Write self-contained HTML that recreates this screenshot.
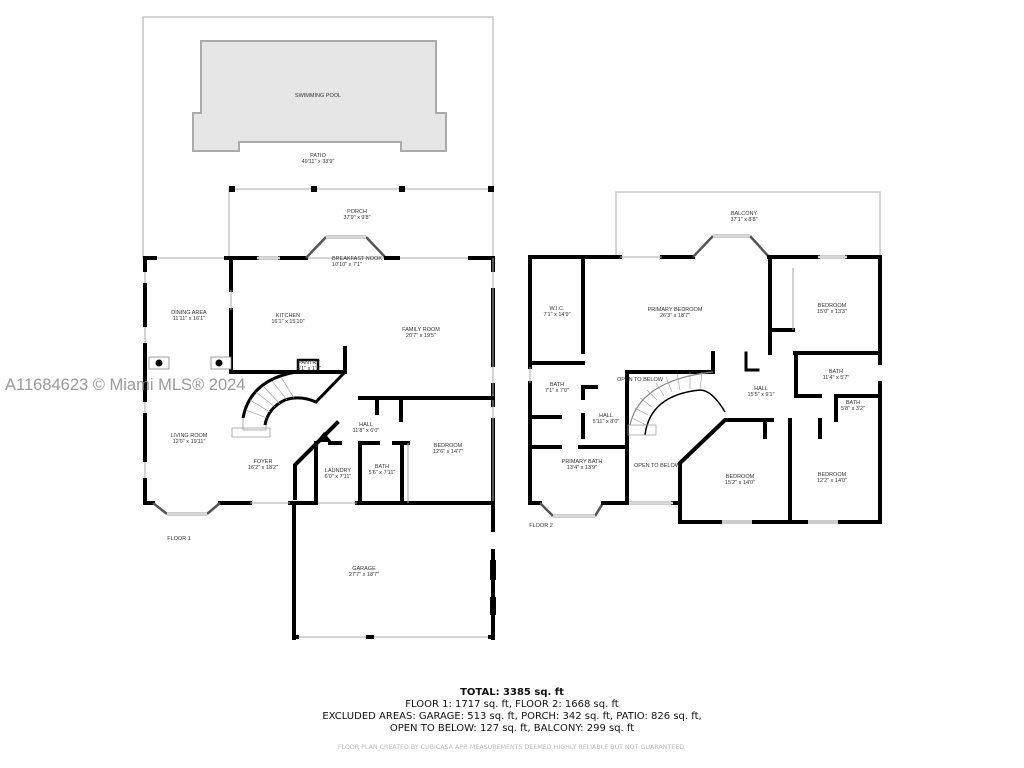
<!DOCTYPE html>
<html><head><meta charset="utf-8"><style>
html,body{margin:0;padding:0;background:#fff}
svg{display:block}
.t{font-family:"Liberation Sans",sans-serif;font-size:5.5px;fill:#333;text-anchor:middle}
.w{stroke:#000;stroke-width:4;fill:none;stroke-linecap:square}
.th{stroke:#aaa;stroke-width:1;fill:none}
.dg{stroke:#555;stroke-width:2.5;fill:none}
.win{stroke:#999;stroke-width:3;fill:none}
.win2{stroke:#fff;stroke-width:1.2;fill:none}
.s{font-family:"DejaVu Sans",sans-serif;font-size:10px;fill:#111;text-anchor:middle}
</style></head><body>
<svg width="1024" height="768" viewBox="0 0 1024 768" xmlns="http://www.w3.org/2000/svg">
<path class="th" d="M143,258 V17 H493 V190"/>
<path d="M200,40 H437 V112 H447 V152 H400 V143 H240 V152 H192 V112 H200 Z" fill="#aaa"/>
<path d="M202,42 H435 V114 H445 V150 H402 V141 H238 V150 H194 V114 H202 Z" fill="#e6e6e6"/>
<text class="t" x="318" y="97">SWIMMING POOL</text>
<text class="t" x="318" y="157">PATIO</text><text class="t" x="318" y="163">49'11" x 33'9"</text>
<path class="th" d="M229,258 V189 H493 V258"/>
<rect x="229" y="186" width="6" height="6"/><rect x="311" y="186" width="6" height="6"/><rect x="399" y="186" width="6" height="6"/><rect x="488" y="186" width="6" height="6"/>
<text class="t" x="357" y="213">PORCH</text><text class="t" x="357" y="219">37'9" x 9'8"</text>

<path class="th" d="M145,258 H493"/>
<path class="w" d="M145,258 H155"/><path class="w" d="M226,258 H257"/><path class="w" d="M280,258 H306"/>
<path class="win" d="M257,258 H280"/><path class="win2" d="M257,258 H280"/>
<path class="dg" d="M306,258 L326,237 M366,237 L386,258"/>
<path class="win" d="M326,237 H366"/><path class="win2" d="M326,237 H366"/>
<path class="w" d="M386,258 H398"/><path class="w" d="M470,258 H493"/>
<path class="th" d="M145,258 V503"/>
<path class="w" d="M145,258 V270 M145,285 V325 M145,345 V400 M145,415 V460 M145,480 V503"/>
<path class="w" d="M493,258 V270 M493,290 V365 M493,385 V405 M493,420 V503"/>
<path class="th" d="M493,258 V503"/>
<path class="w" d="M145,503 H153 M220,503 H250"/>
<path class="dg" d="M153,503 L167,514 M207,514 L220,503"/>
<path class="win" d="M167,514 H207"/><path class="win2" d="M167,514 H207"/>
<path class="w" d="M290,503 H315 M357,503 H493"/>
<path class="th" d="M250,503 H290 M315,503 H357"/>
<path class="w" d="M231,258 V290 M231,310 V372 H345 V348"/>
<path class="th" d="M231,290 V310"/>
<path class="w" d="M298,372 V360 H318 V372" style="stroke-width:2.5"/>
<text class="t" x="288" y="317">KITCHEN</text><text class="t" x="288" y="323">16'1" x 15'10"</text>
<text class="t" x="309" y="364">PANTRY</text><text class="t" x="309" y="370">4'1" x 1'3"</text>
<rect x="149" y="357" width="20" height="12" fill="#fff" stroke="#888" stroke-width="0.8"/><circle cx="159" cy="363" r="3.5"/>
<rect x="211" y="357" width="20" height="12" fill="#fff" stroke="#888" stroke-width="0.8"/><circle cx="219" cy="363" r="3.5"/>
<path d="M296,372 Q250,380 243,418" stroke="#000" stroke-width="3" fill="none"/>
<path d="M345,372 L316,402 Q300,395 285,400 Q268,408 265,425" stroke="#000" stroke-width="3" fill="none"/>
<path d="M243,418 V430 H266 V425" stroke="#999" stroke-width="0.8" fill="none"/>
<path d="M232,428 H270 V437 H232 Z" fill="none" stroke="#999" stroke-width="0.8"/>
<g stroke="#999" stroke-width="0.6"><path d="M250,400 L270,412 M256,392 L275,407 M263,386 L280,404 M272,381 L287,400 M281,377 L294,398 M246,410 L267,418"/></g>
<path class="w" d="M295,498 V465 L337,423"/>
<path d="M316,442 L332,442 L324,432 Z"/>
<path class="w" d="M316,443 V503 M360,443 V503 M402,443 V503"/>
<path class="w" d="M330,443 H340 M360,443 H378 M394,443 H408"/>
<path class="th" d="M408,443 V503"/>
<path class="w" d="M360,398 H493 M377,398 V413 M401,398 V420"/>
<path class="w" d="M294,503 V638 M493,503 V530 M493,551 V638"/>
<path d="M490,560 h6 v20 h-6z M490,597 h6 v18 h-6z"/>
<path class="th" d="M296,637 H491"/>
<path d="M294,635 h5 v4 h-5z M366,635 h8 v4 h-8z M488,635 h6 v4 h-6z"/>

<text class="t" x="189" y="314">DINING AREA</text><text class="t" x="189" y="320">11'11" x 16'1"</text>
<text class="t" x="189" y="437">LIVING ROOM</text><text class="t" x="189" y="443">12'0" x 19'11"</text>
<text class="t" x="357" y="260">BREAKFAST NOOK</text><text class="t" x="347" y="266">10'10" x 7'1"</text>
<text class="t" x="421" y="331">FAMILY ROOM</text><text class="t" x="421" y="337">20'7" x 19'5"</text>
<text class="t" x="263" y="463">FOYER</text><text class="t" x="263" y="469">16'2" x 18'2"</text>
<text class="t" x="366" y="426">HALL</text><text class="t" x="366" y="432">11'8" x 6'0"</text>
<text class="t" x="448" y="447">BEDROOM</text><text class="t" x="448" y="453">12'6" x 14'7"</text>
<text class="t" x="338" y="472">LAUNDRY</text><text class="t" x="338" y="478">6'0" x 7'11"</text>
<text class="t" x="382" y="468">BATH</text><text class="t" x="382" y="474">5'6" x 7'11"</text>
<text class="t" x="364" y="570">GARAGE</text><text class="t" x="364" y="576">27'7" x 18'7"</text>
<text class="t" x="179" y="540">FLOOR 1</text>

<path class="th" d="M616,257 V192 H880 V257"/>
<text class="t" x="744" y="215">BALCONY</text><text class="t" x="744" y="221">37'1" x 8'8"</text>
<path class="w" d="M530,257 H620 M662,257 H693"/>
<path class="th" d="M620,257 H662"/>
<path class="dg" d="M693,257 L713,236 M750,236 L769,257"/>
<path class="win" d="M713,236 H750"/><path class="win2" d="M713,236 H750"/>
<path class="w" d="M769,257 H818 M847,257 H880"/>
<path class="win" d="M818,257 H847"/><path class="win2" d="M818,257 H847"/>
<path class="w" d="M530,257 V367 M530,383 V503 H540"/>
<path class="th" d="M530,367 V383"/>
<path class="dg" d="M540,503 L553,516 M595,516 L603,503"/>
<path class="win" d="M553,516 H595"/><path class="win2" d="M553,516 H595"/>
<path class="w" d="M603,503 H627 M673,503 H680"/>
<path class="win" d="M627,503 H673"/><path class="win2" d="M627,503 H673"/>
<path class="w" d="M880,257 V363 M880,383 V522 H680 V463 L725,420 H765 V437"/>
<path d="M722,520 h30 v4 h-30z M808,520 h30 v4 h-30z" fill="#ccc"/>
<path class="w" d="M583,257 V352 M530,363 H583 M583,387 V398 M583,415 V437 M530,417 H560 M530,447 H560 M580,447 H627"/>
<path class="w" d="M583,387 H596"/>
<path class="w" d="M627,372 V503 M627,372 H713 V353"/>
<path class="w" d="M746,353 V370 H758" style="stroke-width:3"/>
<path class="w" d="M770,257 V353 M770,330 H793 M795,353 H880 M796,353 V396 H820 M836,396 H880 M836,396 V420 M820,420 V437 M790,420 V522"/>
<path class="w" d="M745,420 H772"/><path class="th" d="M793,268 V330"/>
<path d="M630,425 Q640,380 713,372" stroke="#888" stroke-width="1.2" fill="none"/>
<path d="M645,435 Q650,395 700,390 Q712,390 725,412" stroke="#000" stroke-width="1.5" fill="none"/>
<g stroke="#999" stroke-width="0.6"><path d="M632,418 L646,425 M635,408 L648,415 M640,398 L652,407 M647,390 L657,400 M656,383 L664,396 M666,377 L672,392 M677,374 L680,390 M690,372 L690,389 M702,372 L700,390"/></g>
<rect x="628" y="425" width="28" height="10" fill="none" stroke="#999" stroke-width="0.7"/>

<text class="t" x="557" y="310">W.I.C.</text><text class="t" x="557" y="316">7'1" x 14'9"</text>
<text class="t" x="675" y="311">PRIMARY BEDROOM</text><text class="t" x="675" y="317">26'3" x 18'7"</text>
<text class="t" x="832" y="307">BEDROOM</text><text class="t" x="832" y="313">15'0" x 13'3"</text>
<text class="t" x="557" y="386">BATH</text><text class="t" x="557" y="392">7'1" x 7'0"</text>
<text class="t" x="640" y="381">OPEN TO BELOW</text>
<text class="t" x="606" y="417">HALL</text><text class="t" x="606" y="423">5'11" x 8'0"</text>
<text class="t" x="761" y="390">HALL</text><text class="t" x="761" y="396">15'5" x 9'1"</text>
<text class="t" x="836" y="373">BATH</text><text class="t" x="836" y="379">11'4" x 5'7"</text>
<text class="t" x="853" y="404">BATH</text><text class="t" x="853" y="410">5'8" x 3'2"</text>
<text class="t" x="582" y="463">PRIMARY BATH</text><text class="t" x="582" y="469">13'4" x 13'9"</text>
<text class="t" x="657" y="467">OPEN TO BELOW</text>
<text class="t" x="740" y="478">BEDROOM</text><text class="t" x="740" y="484">15'2" x 14'0"</text>
<text class="t" x="832" y="476">BEDROOM</text><text class="t" x="832" y="482">12'2" x 14'0"</text>
<text class="t" x="541" y="527">FLOOR 2</text>

<text x="5" y="390" font-family="Liberation Sans,sans-serif" font-size="16.5" fill="#888" fill-opacity="0.85">A11684623 © Miami MLS® 2024</text>

<text class="s" x="512" y="695" font-weight="bold">TOTAL: 3385 sq. ft</text>
<text class="s" x="512" y="707">FLOOR 1: 1717 sq. ft, FLOOR 2: 1668 sq. ft</text>
<text class="s" x="512" y="719">EXCLUDED AREAS: GARAGE: 513 sq. ft, PORCH: 342 sq. ft, PATIO: 826 sq. ft,</text>
<text class="s" x="512" y="731">OPEN TO BELOW: 127 sq. ft, BALCONY: 299 sq. ft</text>
<text x="512" y="749" text-anchor="middle" font-family="DejaVu Sans,sans-serif" font-size="6.3" fill="#bbb">FLOOR PLAN CREATED BY CUBICASA APP. MEASUREMENTS DEEMED HIGHLY RELIABLE BUT NOT GUARANTEED.</text>
</svg>
</body></html>
